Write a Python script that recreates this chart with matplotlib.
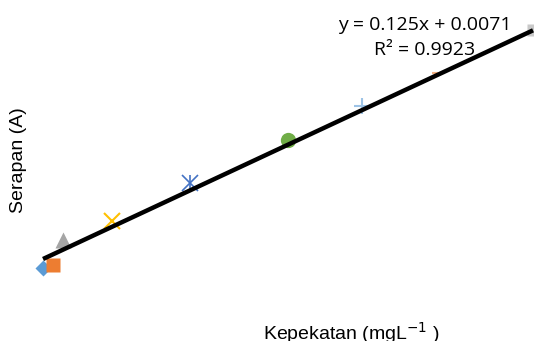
import matplotlib
matplotlib.use("Agg")
from matplotlib import pyplot as plt

# data
concentration = [0.0, 0.1, 0.2, 0.7, 1.5, 2.5, 3.25, 4.0, 5.0]
absorbance = [-0.017, -0.009, 0.059, 0.111, 0.215, 0.332, 0.425, 0.515, 0.633]
markers = ['D', 's', '^', 'x', 'asterisk', 'o', '+', '_', 's']
colors = ['#5B9BD5', '#ED7D31', '#A5A5A5', '#FFC000', '#4472C4',
          '#70AD47', '#9DC3E6', '#F4B183', '#C9C9C9']
sizes = [8, 10, 11, 11, 12, 11, 12, 5, 8]

slope = 0.125
intercept = 0.0071
r_squared = 0.9923

fig = plt.figure(figsize=(5.34, 3.41), dpi=100)
ax = fig.add_axes([0, 0, 1, 1])
ax.axis('off')
ax.set_xlim(-0.439, 5.01)
ax.set_ylim(-0.217, 0.715)

for x, y, m, c, s in zip(concentration, absorbance, markers, colors, sizes):
    if m == 'asterisk':
        ax.plot(x, y, marker='x', color=c, markersize=s, mew=1.2, zorder=2)
        ax.plot(x, y, marker='|', color=c, markersize=s, mew=1.2, zorder=2)
    elif m in ('x', '+', '_'):
        ax.plot(x, y, marker=m, color=c, markersize=s, mew=1.5, zorder=2)
    else:
        ax.plot(x, y, marker=m, color=c, markersize=s, mec='none', zorder=2)

# trend line from the fitted coefficients
x_fit = [concentration[0], concentration[-1]]
y_fit = [slope * x + intercept for x in x_fit]
ax.plot(x_fit, y_fit, color='black', lw=3.2, solid_capstyle='butt', zorder=3)

fig.text(0.795, 0.89, f'y = {slope}x + {intercept}\nR² = {r_squared}',
         ha='center', va='center', fontsize=14, family='Open Sans',
         linespacing=1.45)

fig.text(0.035, 0.53, 'Serapan (A)', rotation=90, ha='center', va='center',
         fontsize=14, family='Liberation Sans')
fig.text(0.658, 0.022, 'Kepekatan (mgL$^{-1}$ )', ha='center', va='center',
         fontsize=14, family='Liberation Sans')

fig.savefig('out.png', dpi=100)
